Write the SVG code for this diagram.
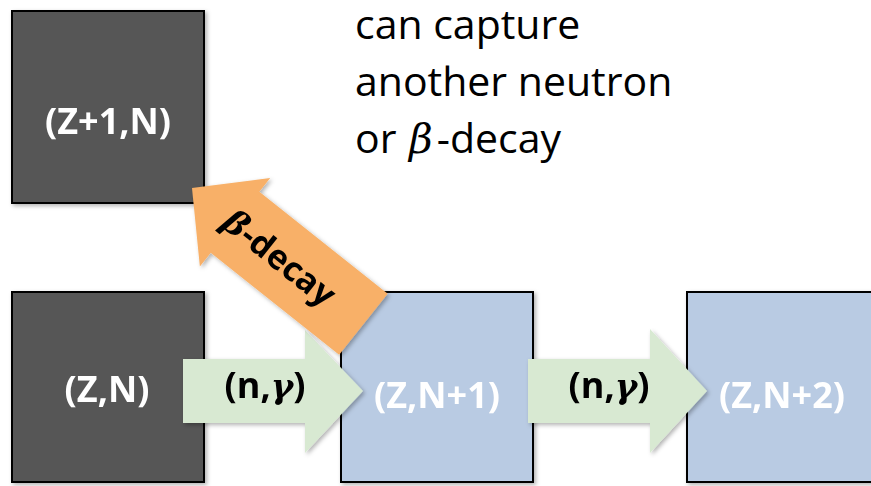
<svg xmlns="http://www.w3.org/2000/svg" width="871" height="486" viewBox="0 0 871 486">
<style>
  .box { stroke: #000; stroke-width: 2; }
  .dark { fill: #575757; }
  .blue { fill: #b9cbe3; }
  .green { fill: #d8e9d2; }
  .orange { fill: #f8b067; }
  .lbl { font-family: "Open Sans", "Liberation Sans", sans-serif; font-weight: bold; font-size: 36px; text-anchor: middle; }
  .white { fill: #ffffff; }
  .black { fill: #000000; }
  .note { font-family: "Open Sans", "Liberation Sans", sans-serif; font-size: 41px; fill: #000; }
  .math { font-family: "DejaVu Serif", "Liberation Serif", serif; font-style: italic; }
  .bm { font-family: "DejaVu Serif", "Liberation Serif", serif; font-style: italic; font-weight: bold; font-size: 34px; }
</style>
<defs>
  <filter id="sh" x="-10%" y="-10%" width="130%" height="130%">
    <feDropShadow dx="2" dy="2" stdDeviation="2" flood-color="#000" flood-opacity="0.3"/>
  </filter>
</defs>

<g id="node-z1n" filter="url(#sh)">
  <rect class="box dark" x="12" y="11" width="192" height="192"/>
  <text class="lbl white" x="108" y="134">(Z+1,N)</text>
</g>
<g id="node-zn" filter="url(#sh)">
  <rect class="box dark" x="12" y="292" width="192" height="190"/>
  <text class="lbl white" x="107" y="402">(Z,N)</text>
</g>
<g id="node-zn1" filter="url(#sh)">
  <rect class="box blue" x="341" y="292" width="192" height="190"/>
  <text class="lbl white" x="437" y="408">(Z,N+1)</text>
</g>
<g id="node-zn2" filter="url(#sh)">
  <rect class="box blue" x="687" y="292" width="192" height="190"/>
  <text class="lbl white" x="782" y="408">(Z,N+2)</text>
</g>

<g id="connectors">
  <g id="ng1" filter="url(#sh)">
    <polygon class="green" points="183,359 305,359 305,330 363,391 305,453 305,423 183,423"/>
    <text class="lbl black" x="265" y="398">(n,<tspan class="bm">γ</tspan>)</text>
  </g>
  <g id="ng2" filter="url(#sh)">
    <polygon class="green" points="528,359 650,359 650,329 707,391 650,453 650,423 528,423"/>
    <text class="lbl black" x="609" y="398">(n,<tspan class="bm">γ</tspan>)</text>
  </g>
  <g id="beta" filter="url(#sh)">
    <g transform="translate(192,188) rotate(38.5)">
      <polygon class="orange" points="0,0 55,-56.5 55,-39 219,-39 219,39 55,39 55,56.5"/>
      <text class="lbl black" x="112" y="12" style="font-size:34px"><tspan class="bm">β</tspan>-decay</text>
    </g>
  </g>
</g>

<g id="note">
  <text class="note" x="355" y="39">can capture</text>
  <text class="note" x="355" y="96">another neutron</text>
  <text class="note" x="355" y="153">or <tspan class="math" dx="2">β</tspan><tspan dx="4">-decay</tspan></text>
</g>
</svg>
